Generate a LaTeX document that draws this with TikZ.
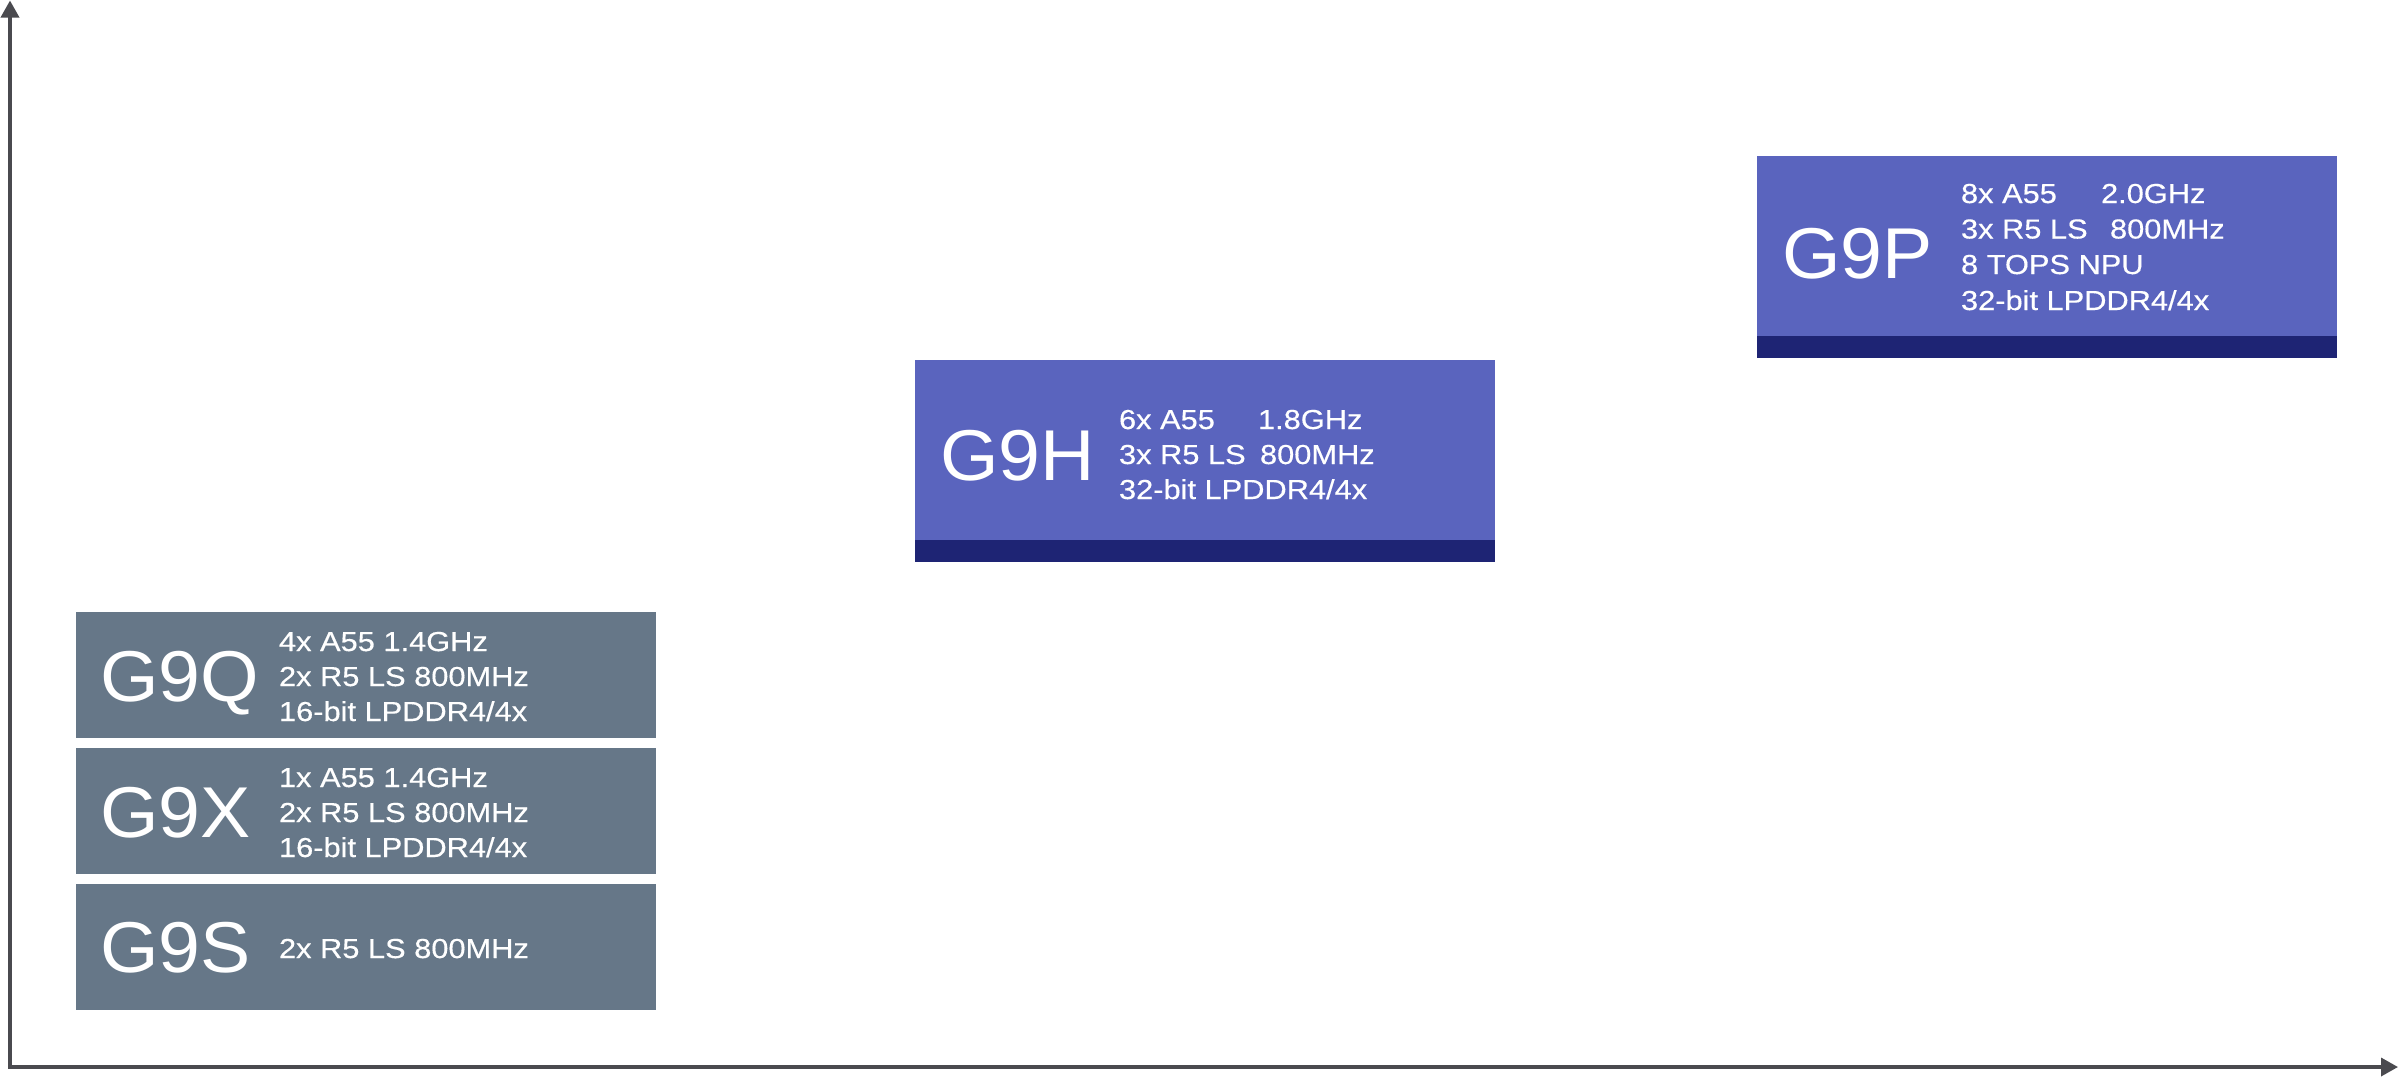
\documentclass[tikz,border=0pt]{standalone}
\usepackage{fontspec}
\setmainfont{Liberation Sans}
\newfontfamily\namefont{Liberation Sans}[FakeStretch=1.045]
\newfontfamily\detailfont{Liberation Sans}[FakeStretch=1.12,FakeBold=0.4]
\usetikzlibrary{arrows.meta}
\definecolor{axisgray}{HTML}{4A4A4F}
\definecolor{slate}{HTML}{667788}
\definecolor{indigo}{HTML}{5A64BE}
\definecolor{navy}{HTML}{1E2474}
\tikzset{
  chipbox/.style={anchor=north west, inner sep=0pt, outer sep=0pt, minimum width=580pt, draw=none},
  graybox/.style={chipbox, fill=slate, minimum height=126pt},
  bluebox/.style={chipbox, fill=indigo, minimum height=180pt},
  bandbox/.style={chipbox, fill=navy, minimum height=22pt},
  bigname/.style={anchor=base west, inner sep=0pt, outer sep=0pt, text=white, font=\namefont\fontsize{72}{72}\selectfont},
  spec/.style={anchor=base west, inner sep=0pt, outer sep=0pt, text=white, font=\detailfont\fontsize{27.5}{35}\selectfont},
  axisline/.style={draw=axisgray, line width=3.5pt, >={Triangle[length=17pt,width=18pt]}, <->}
}
\begin{document}
\begin{tikzpicture}[x=1pt, y=-1pt]
\useasboundingbox (0,0) rectangle (2400,1080);
% axes
\coordinate (yend) at (10,0.5);
\coordinate (origin) at (10,1067);
\coordinate (xend) at (2398,1067);
\draw[axisline] (yend) -- (origin) -- (xend);
% gray boxes
\node[graybox] (q) at (76,612) {};
\node[graybox] (x) at (76,748) {};
\node[graybox] (s) at (76,884) {};
% blue boxes
\node[bluebox] (h) at (915,360) {};
\node[bandbox] (hband) at (h.south west) {};
\node[bluebox] (p) at (1757,156) {};
\node[bandbox] (pband) at (p.south west) {};
% G9Q
\node[bigname] (qname) at (100,701) {G9Q};
\node[spec] (q1) at (279,651) {4x A55 1.4GHz};
\node[spec] (q2) at (279,686) {2x R5 LS 800MHz};
\node[spec] (q3) at (279,721) {16-bit LPDDR4/4x};
% G9X
\node[bigname] (xname) at (100,837) {G9X};
\node[spec] (x1) at (279,787) {1x A55 1.4GHz};
\node[spec] (x2) at (279,822) {2x R5 LS 800MHz};
\node[spec] (x3) at (279,857) {16-bit LPDDR4/4x};
% G9S
\node[bigname] (sname) at (100,972) {G9S};
\node[spec] (s1) at (279,958) {2x R5 LS 800MHz};
% G9H
\node[bigname] (hname) at (940,480) {G9H};
\node[spec] (h1) at (1119,429) {6x A55};
\node[spec] (h1b) at (1258,429) {1.8GHz};
\node[spec] (h2) at (1119,464) {3x R5 LS};
\node[spec] (h2b) at (1260,464) {800MHz};
\node[spec] (h3) at (1119,499) {32-bit LPDDR4/4x};
% G9P
\node[bigname] (pname) at (1782,278) {G9P};
\node[spec] (p1) at (1961,203) {8x A55};
\node[spec] (p1b) at (2101,203) {2.0GHz};
\node[spec] (p2) at (1961,238.5) {3x R5 LS};
\node[spec] (p2b) at (2110,238.5) {800MHz};
\node[spec] (p3) at (1961,274) {8 TOPS NPU};
\node[spec] (p4) at (1961,310) {32-bit LPDDR4/4x};
\end{tikzpicture}
\end{document}
